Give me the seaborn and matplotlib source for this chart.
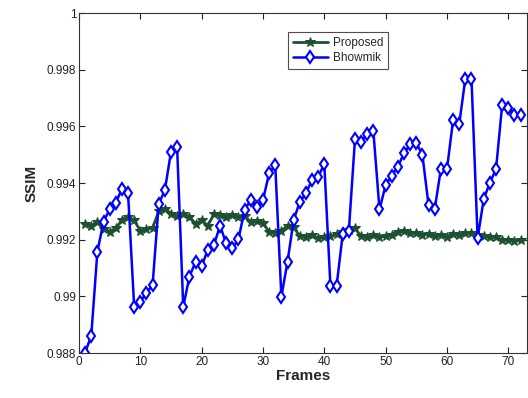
import numpy as np
import pandas as pd
import matplotlib
matplotlib.use("Agg")
import matplotlib.pyplot as plt
import seaborn as sns

frames = list(range(1, 73))

proposed = [
    0.99255, 0.99250, 0.99262, 0.99238, 0.99228, 0.99240, 0.99270, 0.99280, 0.99268, 0.99232,
    0.99238, 0.99242, 0.99300, 0.99310, 0.99292, 0.99285, 0.99290, 0.99282, 0.99256, 0.99268,
    0.99250, 0.99290, 0.99286, 0.99282, 0.99288, 0.99280, 0.99284, 0.99262, 0.99265, 0.99258,
    0.99228, 0.99225, 0.99232, 0.99250, 0.99245, 0.99212, 0.99208, 0.99215, 0.99205, 0.99210,
    0.99212, 0.99220, 0.99228, 0.99235, 0.99240, 0.99212, 0.99208, 0.99215, 0.99210, 0.99212,
    0.99218, 0.99228, 0.99232, 0.99225, 0.99222, 0.99218, 0.99220, 0.99212, 0.99215, 0.99210,
    0.99220, 0.99215, 0.99222, 0.99225, 0.99218, 0.99212, 0.99208, 0.99210, 0.99198, 0.99200,
    0.99195, 0.99198,
]

bhowmik = [
    0.98801, 0.98861, 0.99158, 0.99263, 0.99308, 0.99330, 0.99380, 0.99364, 0.98963, 0.98981,
    0.99013, 0.99040, 0.99326, 0.99375, 0.99510, 0.99526, 0.98963, 0.99069, 0.99122, 0.99107,
    0.99164, 0.99181, 0.99250, 0.99187, 0.99170, 0.99201, 0.99305, 0.99340, 0.99316, 0.99340,
    0.99434, 0.99464, 0.98999, 0.99122, 0.99269, 0.99334, 0.99364, 0.99411, 0.99422, 0.99467,
    0.99036, 0.99036, 0.99219, 0.99231, 0.99554, 0.99546, 0.99575, 0.99583, 0.99307, 0.99393,
    0.99426, 0.99458, 0.99505, 0.99537, 0.99542, 0.99499, 0.99322, 0.99307, 0.99449, 0.99449,
    0.99622, 0.99608, 0.99769, 0.99769, 0.99205, 0.99344, 0.99401, 0.99449, 0.99675, 0.99664,
    0.99640, 0.99640,
]

y_ticks = [0.988, 0.990, 0.992, 0.994, 0.996, 0.998, 1.000]
y_tick_labels = ["0.988", "0.99", "0.992", "0.994", "0.996", "0.998", "1"]
x_ticks = [0, 10, 20, 30, 40, 50, 60, 70]

green = "#1d5030"
blue = "#0000ff"

sns.set_style("white")
plt.rcParams["font.family"] = ["Liberation Sans", "DejaVu Sans"]

fig = plt.figure(figsize=(5.28, 3.98), dpi=100)
ax = fig.add_axes([0.1496, 0.113, 0.8479, 0.854])

df = pd.DataFrame({"Frames": frames, "Proposed": proposed, "Bhowmik": bhowmik})

sns.lineplot(data=df, x="Frames", y="Proposed", ax=ax, color=green, linewidth=2.0,
             marker="*", markersize=7, markeredgecolor=green, markerfacecolor=green,
             label="Proposed")
sns.lineplot(data=df, x="Frames", y="Bhowmik", ax=ax, color=blue, linewidth=1.8,
             marker="d", markersize=6.5, markeredgecolor=blue, markerfacecolor="white",
             markeredgewidth=1.5, label="Bhowmik")

ax.set_xlim(0, 73)
ax.set_ylim(0.988, 1.0)
ax.set_xticks(x_ticks)
ax.set_yticks(y_ticks)
ax.set_yticklabels(y_tick_labels)
ax.tick_params(direction="in", length=4, width=0.8, labelsize=8.5, colors="#222222",
               top=True, right=True, bottom=True, left=True, pad=2)
for s in ax.spines.values():
    s.set_color("#333333")
    s.set_linewidth(0.8)

ax.set_xlabel("Frames", fontsize=11, fontweight="bold", labelpad=1)
ax.set_ylabel("SSIM", fontsize=11, fontweight="bold", labelpad=6)

leg = ax.legend(loc="upper left", bbox_to_anchor=(0.467, 0.944), fontsize=8.5,
                frameon=True, fancybox=False, handlelength=3.0, borderpad=0.4,
                labelspacing=0.25, handletextpad=0.4, borderaxespad=0)
leg.get_frame().set_edgecolor("#222222")
leg.get_frame().set_linewidth(0.8)

fig.savefig("out.png", dpi=100)
